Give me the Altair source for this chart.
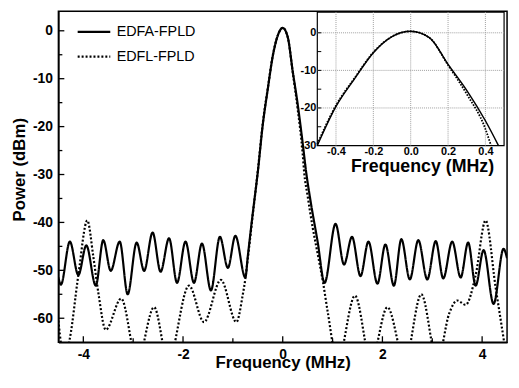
import altair as alt
import pandas as pd

# ---------------- data ----------------
series_names = ["EDFA-FPLD", "EDFL-FPLD"]

solid_freq = [-4.5, -4.45, -4.27, -4.1, -3.94, -3.75, -3.6, -3.45, -3.27, -3.11, -2.93, -2.78,
              -2.61, -2.45, -2.28, -2.12, -1.95, -1.78, -1.62, -1.44, -1.26, -1.1, -0.95, -0.75,
              -0.7, -0.6, -0.5, -0.4, -0.3, -0.2, -0.1, 0.0, 0.1, 0.2, 0.3, 0.4, 0.47, 0.55, 0.7,
              0.84, 1.06, 1.23, 1.39, 1.56, 1.72, 1.9, 2.06, 2.23, 2.38, 2.55, 2.72, 2.9, 3.07,
              3.22, 3.4, 3.57, 3.72, 3.87, 4.03, 4.23, 4.43, 4.5]
solid_power = [-51.5, -53, -44, -51, -44.8, -53.2, -43.7, -50.1, -44, -55, -44.2, -50.1,
               -42.1, -50.3, -43.3, -52.6, -44, -52.6, -44.4, -54.2, -43, -49.5, -42.8, -51.5,
               -47, -38, -29.5, -19.6, -12.2, -5.3, -1.0, 0.6, -1.3, -8.4, -15.3, -23.4, -29.5, -35, -44,
               -52.6, -40.3, -48.8, -43, -51.2, -44, -52.8, -44.6, -53.2, -43.5, -51.9, -43.7, -51.9, -43.9,
               -51.7, -44, -51.5, -44.2, -53.2, -45.8, -57, -45.5, -47.5]

dotted_freq = [-4.5, -4.38, -4.27, -4.1, -3.92, -3.8, -3.7, -3.55, -3.24, -2.92, -2.58, -2.3,
               -1.88, -1.58, -1.24, -0.93, -0.8, -0.75, -0.7, -0.6, -0.5, -0.4, -0.3, -0.2, -0.1,
               0.0, 0.1, 0.2, 0.3, 0.4, 0.43, 0.5, 0.6, 0.7, 0.81, 0.9, 1.1, 1.45, 1.77, 2.1, 2.45,
               2.78, 3.1, 3.34, 3.5, 3.67, 3.87, 4.07, 4.27, 4.43, 4.5]
dotted_power = [-60.5, -68.5, -64.2, -51, -39.6, -47.1, -54.6, -62.4, -55.9, -69, -57.7, -69,
                -53.2, -60.8, -52, -60.8, -55, -51.8, -47.5, -38.3, -29.3, -19.3, -12, -5.2, -1.0,
                0.6, -1.3, -8.6, -16.3, -25.6, -29.5, -34.5, -41, -46.5, -52.6, -58.5, -69, -55.3, -69, -57.7, -69,
                -55, -69, -59, -56.3, -57.2, -51, -39.6, -53.5, -64.2, -69]

inset_solid_freq = [-0.5, -0.4, -0.3, -0.2, -0.1, 0.0, 0.1, 0.2, 0.3, 0.4, 0.47]
inset_solid_power = [-30, -19.6, -12.2, -5.3, -1.0, 0.4, -1.3, -8.4, -15.3, -23.4, -30]
inset_dotted_freq = [-0.5, -0.4, -0.3, -0.2, -0.1, 0.0, 0.1, 0.2, 0.3, 0.4, 0.43]
inset_dotted_power = [-29.6, -19.3, -12.0, -5.2, -1.0, 0.4, -1.3, -8.6, -16.3, -25.6, -30]

x_ticks = [-4, -2, 0, 2, 4]
x_minor_ticks = [-3, -1, 1, 3]
y_ticks = [0, -10, -20, -30, -40, -50, -60]
y_minor_ticks = [-5, -15, -25, -35, -45, -55]
inset_x_ticks = [-0.4, -0.2, 0.0, 0.2, 0.4]
inset_y_ticks = [0, -10, -20, -30]
inset_y_grid = [0, -10, -20]
inset_y_minor_ticks = [0, -5, -10, -15, -20, -25]

x_domain = [-4.5, 4.5]
y_domain = [-65, 4.1]
inset_x_domain = [-0.5, 0.5]
inset_y_domain = [-30, 5.5]

# ---------------- layout / style ----------------
W, H = 454, 335
inset_x_range = [262, 451]
inset_y_range = [136, 1]
FONT = "Liberation Sans"


def xs():
    return alt.Scale(domain=x_domain, range=[0, W], nice=False, zero=False)


def ys():
    return alt.Scale(domain=y_domain, range=[H, 0], nice=False, zero=False)


def isx():
    return alt.Scale(domain=inset_x_domain, range=inset_x_range, nice=False, zero=False)


def isy():
    return alt.Scale(domain=inset_y_domain, range=inset_y_range, nice=False, zero=False)


main_df = pd.concat([
    pd.DataFrame({"freq": solid_freq, "power": solid_power, "series": series_names[0]}),
    pd.DataFrame({"freq": dotted_freq, "power": dotted_power, "series": series_names[1]}),
], ignore_index=True)

lines = alt.Chart(main_df).mark_line(
    clip=True, interpolate="monotone", color="black", strokeWidth=2.2
).encode(
    x=alt.X("freq:Q", scale=xs(), axis=alt.Axis(
        orient="bottom", values=x_ticks, grid=False, domain=True, domainColor="black",
        domainWidth=1.5, ticks=False,
        labelFontSize=14, labelFontWeight="bold", labelPadding=6, labelColor="black",
        title="Frequency (MHz)", titleFontSize=17, titleFontWeight="bold", titleColor="black",
        titleY=26, titleBaseline="alphabetic")),
    y=alt.Y("power:Q", scale=ys(), axis=alt.Axis(
        orient="left", values=y_ticks, grid=False, domain=True, domainColor="black",
        domainWidth=1.5, ticks=False,
        labelFontSize=14, labelFontWeight="bold", labelPadding=6, labelColor="black",
        title="Power (dBm)", titleFontSize=17, titleFontWeight="bold", titleColor="black",
        titleX=-34, titleY=160, titleAngle=270, titleBaseline="alphabetic", titleAlign="center")),
    strokeDash=alt.StrokeDash("series:N", scale=alt.Scale(domain=series_names, range=[[1, 0], [2, 2]]),
                              legend=alt.Legend(
                                  orient="none", legendX=18, legendY=3, title=None,
                                  symbolType="stroke", symbolSize=1089, symbolStrokeWidth=2.2,
                                  symbolStrokeColor="black", labelFont=FONT, labelFontSize=14.5,
                                  labelColor="black", labelOffset=5, rowPadding=0, padding=0)),
)


def yrule(values, length, sy, sx, xdom, width=1.3, color="black"):
    return alt.Chart(pd.DataFrame({"v": values})).mark_rule(
        color=color, strokeWidth=width, x2Offset=length
    ).encode(
        y=alt.Y("v:Q", scale=sy, axis=None),
        x=alt.XDatum(xdom, type="quantitative", scale=sx, axis=None),
        x2=alt.X2Datum(xdom),
    )


def xrule(values, length, sx, sy, ydom):
    return alt.Chart(pd.DataFrame({"v": values})).mark_rule(
        color="black", strokeWidth=1.3, y2Offset=-length
    ).encode(
        x=alt.X("v:Q", scale=sx, axis=None),
        y=alt.YDatum(ydom, type="quantitative", scale=sy, axis=None),
        y2=alt.Y2Datum(ydom),
    )


# frame of the main plot (top and right edges)
frame_main = alt.Chart(pd.DataFrame({"x0": [x_domain[0]], "x1": [x_domain[1]],
                                     "y0": [y_domain[0]], "y1": [y_domain[1]]})).mark_rect(
    fill=None, stroke="black", strokeWidth=1.5
).encode(
    x=alt.X("x0:Q", scale=xs(), axis=None), x2="x1",
    y=alt.Y("y0:Q", scale=ys(), axis=None), y2="y1",
)

# ---------------- inset ----------------
frame_df = pd.DataFrame({"x0": [inset_x_domain[0]], "x1": [inset_x_domain[1]],
                         "y0": [inset_y_domain[0]], "y1": [inset_y_domain[1]]})
bg = alt.Chart(frame_df).mark_rect(fill="white", stroke="black", strokeWidth=1.2).encode(
    x=alt.X("x0:Q", scale=isx(), axis=alt.Axis(
        orient="bottom", offset=inset_y_range[0] - H, values=inset_x_ticks,
        format=".1f", grid=False, domain=False, ticks=False, labelFontSize=11,
        labelFontWeight="bold", labelPadding=0, labelColor="black",
        title="Frequency (MHz)", titleFontSize=18, titleFontWeight="bold", titleColor="black",
        titleX=368, titleY=26.5, titleBaseline="alphabetic")),
    x2="x1",
    y=alt.Y("y0:Q", scale=isy(), axis=alt.Axis(
        orient="left", offset=-inset_x_range[0], values=inset_y_ticks,
        grid=False, domain=False, ticks=False, labelFontSize=11,
        labelFontWeight="bold", labelPadding=1.5, labelColor="black", title=None)),
    y2="y1",
)

grid_x = alt.Chart(pd.DataFrame({"v": inset_x_ticks})).mark_rule(
    color="#a0a0a0", strokeWidth=1, strokeDash=[1, 1]
).encode(
    x=alt.X("v:Q", scale=isx(), axis=None),
    y=alt.YDatum(inset_y_domain[0], type="quantitative", scale=isy(), axis=None),
    y2=alt.Y2Datum(inset_y_domain[1]),
)
grid_y = alt.Chart(pd.DataFrame({"v": inset_y_grid})).mark_rule(
    color="#a0a0a0", strokeWidth=1, strokeDash=[1, 1]
).encode(
    y=alt.Y("v:Q", scale=isy(), axis=None),
    x=alt.XDatum(inset_x_domain[0], type="quantitative", scale=isx(), axis=None),
    x2=alt.X2Datum(inset_x_domain[1]),
)

inset_solid = alt.Chart(pd.DataFrame({"f": inset_solid_freq, "p": inset_solid_power})).mark_line(
    interpolate="monotone", color="black", strokeWidth=1.5
).encode(x=alt.X("f:Q", scale=isx(), axis=None), y=alt.Y("p:Q", scale=isy(), axis=None))

inset_dotted = alt.Chart(pd.DataFrame({"f": inset_dotted_freq, "p": inset_dotted_power})).mark_line(
    interpolate="monotone", color="black", strokeWidth=1.8, strokeDash=[1.6, 1.4]
).encode(x=alt.X("f:Q", scale=isx(), axis=None), y=alt.Y("p:Q", scale=isy(), axis=None))

chart = alt.layer(
    lines,
    frame_main,
    yrule(y_ticks, 6, ys(), xs(), x_domain[0]),
    yrule(y_minor_ticks, 4, ys(), xs(), x_domain[0]),
    xrule(x_ticks, 6, xs(), ys(), y_domain[0]),
    xrule(x_minor_ticks, 4, xs(), ys(), y_domain[0]),
    bg,
    grid_x,
    grid_y,
    yrule(inset_y_minor_ticks, 4, isy(), isx(), inset_x_domain[0], width=1),
    inset_solid,
    inset_dotted,
).resolve_scale(
    x="independent", y="independent"
).properties(
    width=W, height=H,
    padding={"left": 51, "top": 1, "right": 4, "bottom": 30},
    autosize=alt.AutoSizeParams(type="none"),
    background="white",
).configure_view(
    stroke=None
).configure(
    font=FONT,
    locale=alt.Locale(number=alt.NumberLocale(decimal=".", thousands=",", grouping=[3],
                                              currency=["", ""], minus="-")),
)

chart.save("out.html", embed_options={"renderer": "svg", "actions": False})
